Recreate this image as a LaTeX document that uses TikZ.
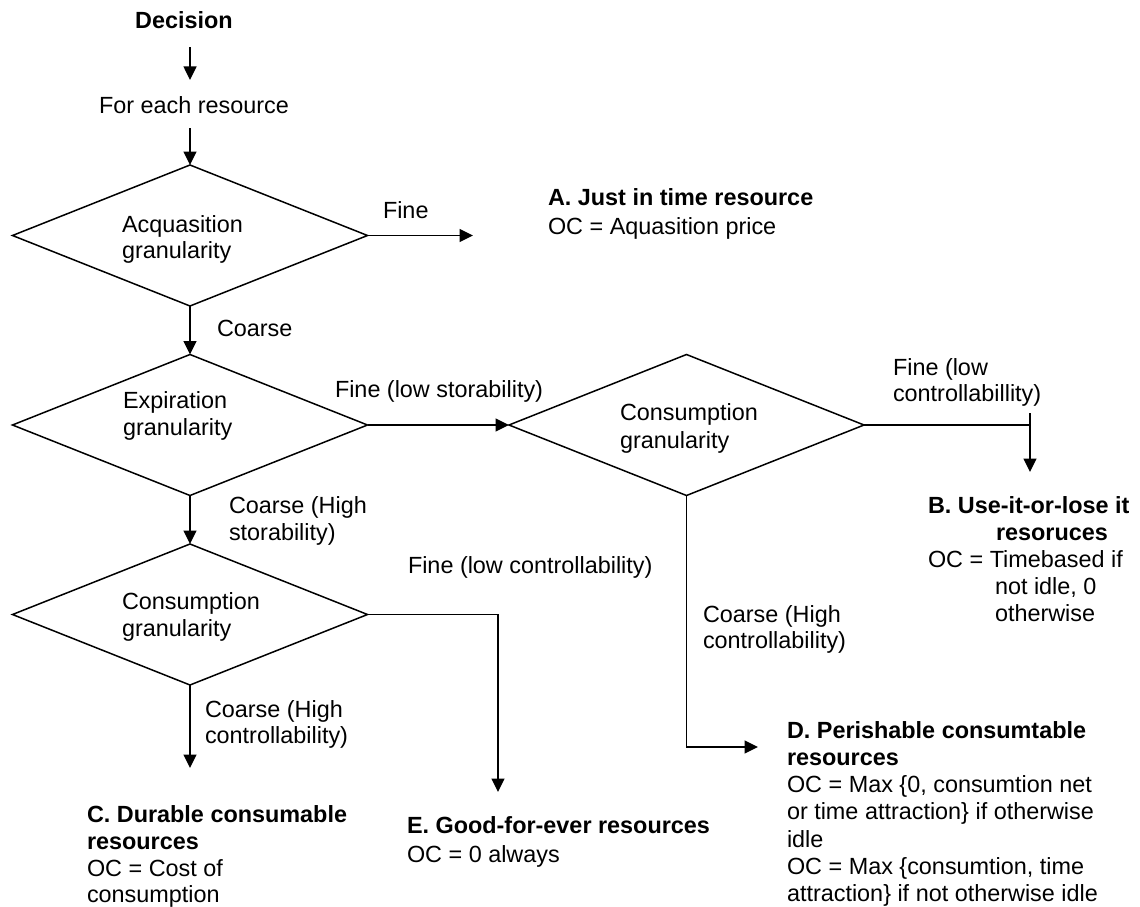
\documentclass[tikz,border=0pt]{standalone}
\usepackage{fontspec}
\setmainfont{Liberation Sans}
\usetikzlibrary{shapes.geometric,arrows.meta}
\begin{document}
\begin{tikzpicture}[x=1pt,y=-1pt,
  every node/.style={font=\fontsize{23.4}{27}\selectfont},
  lbl/.style={inner sep=0pt, outer sep=0pt, anchor=base west},
  ttl/.style={lbl, font=\fontsize{23.4}{27}\selectfont\bfseries},
  dia/.style={draw, diamond, minimum width=355pt, minimum height=141pt, inner sep=0pt, outer sep=0pt, line width=1.5pt},
  arr/.style={line width=1.5pt, -{Triangle[length=13.5pt,width=13pt]}},
  ln/.style={line width=1.5pt}]
\useasboundingbox (0,0) rectangle (1140,907);

% decision diamonds
\node[dia] (d1) at (190,235.5) {};
\node[dia] (d2) at (190,425) {};
\node[dia] (d3) at (190,614.5) {};
\node[dia] (d4) at (686.5,425) {};

% top texts
\node[ttl, anchor=base] (dec) at (184,28.5) {Decision};
\node[lbl, anchor=base] (each) at (194,113.5) {For each resource};

% diamond texts
\node[lbl] (q1a) at (122,232) {Acquasition};
\node[lbl] (q1b) at (122,258) {granularity};
\node[lbl] (q2a) at (123,408) {Expiration};
\node[lbl] (q2b) at (123,435) {granularity};
\node[lbl] (q3a) at (122,609) {Consumption};
\node[lbl] (q3b) at (122,636) {granularity};
\node[lbl] (q4a) at (620,420) {Consumption};
\node[lbl] (q4b) at (620,448) {granularity};

% branch labels
\node[lbl] (fine1) at (383,218) {Fine};
\node[lbl] (coarse1) at (217,336) {Coarse};
\node[lbl] (fine2) at (335,397) {Fine (low storability)};
\node[lbl] (coarse2a) at (229,513) {Coarse (High};
\node[lbl] (coarse2b) at (229,540) {storability)};
\node[lbl] (coarse3a) at (205,717) {Coarse (High};
\node[lbl] (coarse3b) at (205,743) {controllability)};
\node[lbl] (fine3) at (408,573) {Fine (low controllability)};
\node[lbl] (fine4a) at (893,375) {Fine (low};
\node[lbl] (fine4b) at (893,401) {controllabillity)};
\node[lbl] (coarse4a) at (703,622) {Coarse (High};
\node[lbl] (coarse4b) at (703,648) {controllability)};

% result A
\node[ttl] (a1) at (548,205) {A. Just in time resource};
\node[lbl] (a2) at (548,234) {OC = Aquasition price};
% result B
\node[ttl] (b1) at (928,513) {B. Use-it-or-lose it};
\node[ttl] (b2) at (996,540) {resoruces};
\node[lbl] (b3) at (928,567) {OC = Timebased if};
\node[lbl] (b4) at (995,594) {not idle, 0};
\node[lbl] (b5) at (995,621) {otherwise};
% result C
\node[ttl] (c1) at (87,822) {C. Durable consumable};
\node[ttl] (c2) at (87,849) {resources};
\node[lbl] (c3) at (87,876) {OC = Cost of};
\node[lbl] (c4) at (87,902) {consumption};
% result D
\node[ttl] (dd1) at (787,738) {D. Perishable consumtable};
\node[ttl] (dd2) at (787,765.3) {resources};
\node[lbl] (dd3) at (787,792.6) {OC = Max \{0, consumtion net};
\node[lbl] (dd4) at (787,819.9) {or time attraction\} if otherwise};
\node[lbl] (dd5) at (787,847.2) {idle};
\node[lbl] (dd6) at (787,874.5) {OC = Max \{consumtion, time};
\node[lbl] (dd7) at (787,901.8) {attraction\} if not otherwise idle};
% result E
\node[ttl] (e1) at (407,833) {E. Good-for-ever resources};
\node[lbl] (e2) at (407,862) {OC = 0 always};

% free arrow ends
\coordinate (aend) at (473,235.5);
\coordinate (cend) at (190,768);
\coordinate (eend) at (498,792);
\coordinate (dend) at (758,747);
\coordinate (bj) at (1030,425);
\coordinate (btop) at (1030,413);
\coordinate (bend) at (1030,472);

% connectors
\draw[arr, shorten <=18.5pt, shorten >=16.7pt] (dec.south -| d1.center) -- (each.north -| d1.center);
\draw[arr, shorten <=14.5pt] (each.south -| d1.center) -- (d1.north);
\draw[arr] (d1.east) -- (aend);
\draw[arr] (d1.south) -- (d2.north);
\draw[arr] (d2.east) -- (d4.west);
\draw[arr] (d2.south) -- (d3.north);
\draw[arr] (d3.south) -- (cend);
\draw[arr] (d3.east) -| (eend);
\draw[arr] (d4.south) |- (dend);
\draw[ln] (d4.east) -- (bj);
\draw[arr] (btop) -- (bend);
\end{tikzpicture}
\end{document}
